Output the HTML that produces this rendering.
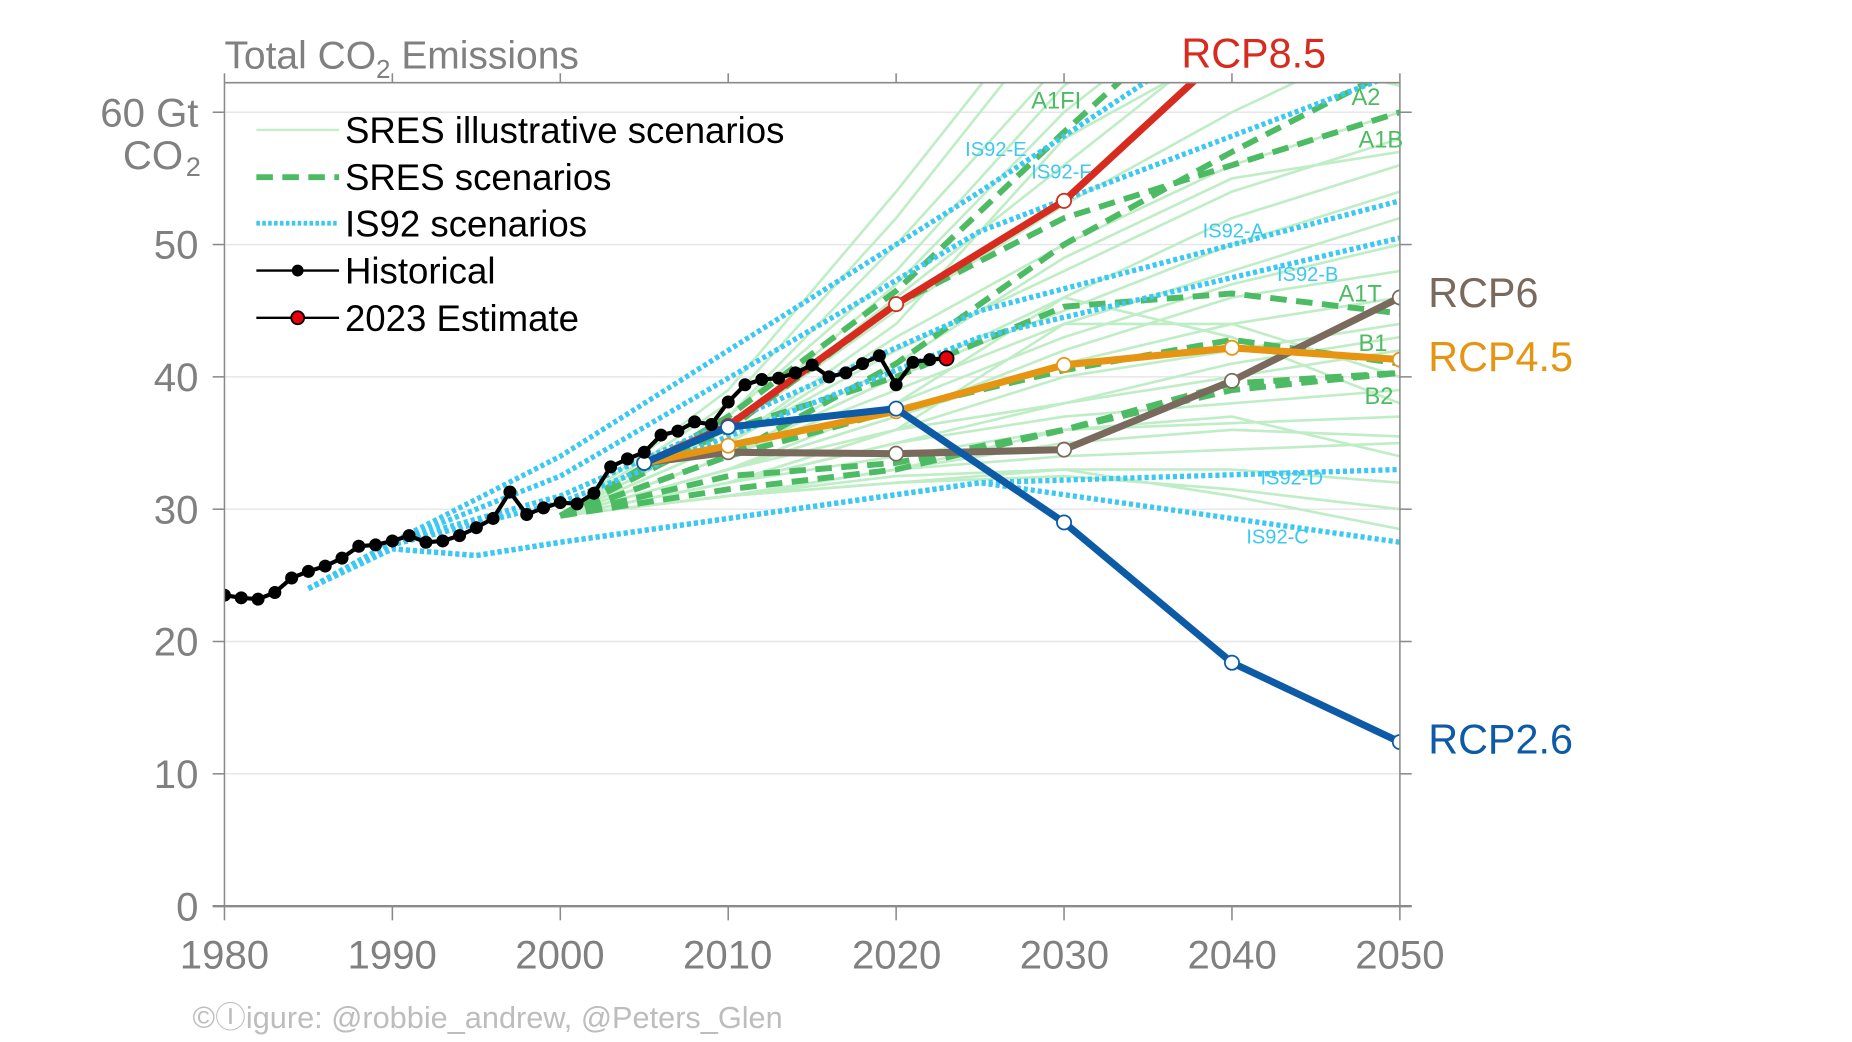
<!DOCTYPE html>
<html><head><meta charset="utf-8"><style>
html,body{margin:0;padding:0;background:#fff;width:1852px;height:1042px;overflow:hidden}
svg{display:block}
text{font-family:"Liberation Sans",sans-serif}
</style></head><body>
<svg id="s" width="1852" height="1042" viewBox="0 0 1567.7 882" preserveAspectRatio="none" xmlns="http://www.w3.org/2000/svg">
<defs><clipPath id="c"><rect x="190" y="70" width="995" height="697"/></clipPath></defs>
<g id="grid" stroke="#e6e6e6" stroke-width="1.2">
<line x1="190" x2="1185" y1="95" y2="95"/><line x1="190" x2="1185" y1="207" y2="207"/><line x1="190" x2="1185" y1="319" y2="319"/><line x1="190" x2="1185" y1="431" y2="431"/><line x1="190" x2="1185" y1="543" y2="543"/><line x1="190" x2="1185" y1="655" y2="655"/>
</g>
<g id="data" clip-path="url(#c)"></g>
<g stroke="#8a8a8a" stroke-width="1.3" fill="none">
<path d="M190 70H1185V767"/><line x1="190" y1="70" x2="190" y2="767"/>
<line x1="180" x2="1195" y1="767" y2="767" stroke-width="2"/>
</g>
<g id="ticks" stroke="#8a8a8a" stroke-width="1.3"></g>
<g fill="#808080" font-size="34" text-anchor="end">
<text x="168" y="107">60 Gt</text>
<text x="155" y="143">CO</text><text x="170" y="149" font-size="23">2</text>
<text x="168" y="219">50</text><text x="168" y="331">40</text><text x="168" y="443">30</text>
<text x="168" y="555">20</text><text x="168" y="667">10</text><text x="168" y="779">0</text>
</g>
<g fill="#808080" font-size="34" text-anchor="middle">
<text x="190" y="820">1980</text><text x="332" y="820">1990</text><text x="474" y="820">2000</text><text x="616" y="820">2010</text><text x="759" y="820">2020</text><text x="901" y="820">2030</text><text x="1043" y="820">2040</text><text x="1185" y="820">2050</text>
</g>
<text x="190" y="58" fill="#808080" font-size="33">Total CO<tspan font-size="22" dy="8">2</tspan><tspan dy="-8"> Emissions</tspan></text>
<text x="163" y="870" fill="#bdbdbd" font-size="26">©Ⓘigure: @robbie_andrew, @Peters_Glen</text>
<g font-size="35">
<text x="1000" y="57" fill="#d62b1e">RCP8.5</text>
<text x="1209" y="260" fill="#7a6a5e">RCP6</text>
<text x="1209" y="314" fill="#e69512">RCP4.5</text>
<text x="1209" y="638" fill="#0d5aa7">RCP2.6</text>
</g>
<g font-size="20" fill="#4dbb63">
<text x="873" y="92">A1FI</text><text x="1144" y="89">A2</text><text x="1150" y="125">A1B</text><text x="1133" y="255">A1T</text><text x="1150" y="297">B1</text><text x="1155" y="342">B2</text>
</g>
<g font-size="17" fill="#3cc8f0">
<text x="817" y="132">IS92-E</text><text x="873" y="151">IS92-F</text><text x="1018" y="201">IS92-A</text><text x="1081" y="238">IS92-B</text><text x="1067" y="410">IS92-D</text><text x="1055" y="460">IS92-C</text>
</g>
<g font-size="31" fill="#000">
<line x1="217" x2="287" y1="110" y2="110" stroke="#c3eec8" stroke-width="2"/>
<line x1="217" x2="287" y1="150" y2="150" stroke="#4dbb63" stroke-width="5" stroke-dasharray="14 8"/>
<line x1="217" x2="287" y1="189" y2="189" stroke="#3cc8f0" stroke-width="4" stroke-dasharray="3 2"/>
<line x1="217" x2="287" y1="229" y2="229" stroke="#000" stroke-width="2"/><circle cx="252" cy="229" r="5"/>
<line x1="217" x2="287" y1="269" y2="269" stroke="#000" stroke-width="2"/><circle cx="252" cy="269" r="5.5" fill="#e8000b" stroke="#000" stroke-width="1.5"/>
<text x="292" y="121">SRES illustrative scenarios</text>
<text x="292" y="161">SRES scenarios</text>
<text x="292" y="200">IS92 scenarios</text>
<text x="292" y="240">Historical</text>
<text x="292" y="280">2023 Estimate</text>
</g>
</svg>
<script>
var NS="http://www.w3.org/2000/svg";
function X(y){return 190+(y-1980)*14.214}
function Y(v){return 767-v*11.2}
var D=document.getElementById("data");
function pl(yrs,vals,attrs,parent){var p=document.createElementNS(NS,"polyline");var pts=[];for(var i=0;i<yrs.length;i++)pts.push(X(yrs[i]).toFixed(1)+","+Y(vals[i]).toFixed(1));p.setAttribute("points",pts.join(" "));p.setAttribute("fill","none");for(var k in attrs)p.setAttribute(k,attrs[k]);(parent||D).appendChild(p);return p}
function circ(x,y,r,fill,stroke,sw,parent){var c=document.createElementNS(NS,"circle");c.setAttribute("cx",x);c.setAttribute("cy",y);c.setAttribute("r",r);c.setAttribute("fill",fill);c.setAttribute("stroke",stroke);c.setAttribute("stroke-width",sw);(parent||D).appendChild(c)}
var Ys=[2000,2010,2020,2030,2040,2050];
var L=[[29.5,38,52,68,85,100],[29.5,37,50,64,78,90],[29.5,39,54,70,85,95],[29.5,36,46,56,66,76],[29.5,36,45,53,60,66],[29.5,35,43,50,56,60],[29.5,35,42,48,54,58],[29.5,34,40,46,52,56],[29.5,34,40,45,50,54],[29.5,34,39,44,48,52],[29.5,33,38,43,47,50],[29.5,33,37,42,46,48],[29.5,33,37,41,44,46],[29.5,33,36,40,42,44],[29.5,32,36,38,41,43],[29.5,32,35,38,40,42],[29.5,32,35,37,38,39],[29.5,32,34,36,36.5,37],[29.5,31,33,35,36,35.5],[29.5,31,33,34,34.5,35],[29.5,31,32,33,33,32],[29.5,31,32,32.5,31.5,30],[29.5,31,32.5,33,31,28.5],[29.5,32,36,44,44,40],[29.5,33,38,46,43,38],[29.5,31,33,36,37,34],[29.5,35,44,58,65,62],[29.5,37,48,62,70,75],[29.5,36,47,60,70,80],[29.5,34,41,49,55,57]];
L.forEach(function(v){pl(Ys,v,{stroke:"#bfedc5","stroke-width":2.2})});
var S=[[29.5,37,46.5,58.5,70,80],[29.5,34,41,50,57,63.5],[29.5,36,45.5,52,56,60],[29.5,36,40,45.3,46.3,44.8],[29.5,34,37.5,40.5,42.8,41],[29.5,32.5,33.5,36,39.5,40.3],[29.5,31.5,33,36,39,40.3]];
S.forEach(function(v){pl(Ys,v,{stroke:"#4dbb63","stroke-width":5,"stroke-dasharray":"14 8"})});
var I=[[[1985,1990,2000,2025,2050],[24,27.5,34,54,75]],[[1985,1990,2000,2025,2050],[24,27.5,32.5,51,63]],[[1985,1990,2000,2025,2050],[24,27.5,31,45,53.3]],[[1985,1990,2000,2025,2050],[24,27.3,30.5,43,50.5]],[[1985,1990,1995,2000,2025,2050],[24,27,26.5,27.5,32,33]],[[1985,1990,1995,2000,2025,2050],[24,27,26.5,27.5,32,27.5]]];
I.forEach(function(v){pl(v[0],v[1],{stroke:"#3cc8f0","stroke-width":4.5,"stroke-dasharray":"3.5 2.5"})});
var R=[["#7a6a5e",[2005,2010,2020,2030,2040,2050],[33.5,34.3,34.2,34.5,39.7,46.0]],["#e69512",[2005,2010,2020,2030,2040,2050],[33.5,34.8,37.4,40.9,42.2,41.3]],["#d62b1e",[2005,2010,2020,2030,2040],[33.5,36.3,45.5,53.3,65]],["#0d5aa7",[2005,2010,2020,2030,2040,2050],[33.5,36.2,37.6,29.0,18.4,12.4]]];
R.forEach(function(r){pl(r[1],r[2],{stroke:r[0],"stroke-width":6,"stroke-linejoin":"round"});for(var i=0;i<r[1].length;i++){if(r[1][i]<=2050)circ(X(r[1][i]),Y(r[2][i]),6,"#fff",r[0],1.5)}});
var H=[23.5,23.3,23.2,23.7,24.8,25.3,25.7,26.3,27.2,27.3,27.6,28.0,27.5,27.6,28.0,28.6,29.3,31.3,29.6,30.1,30.5,30.4,31.2,33.2,33.8,34.3,35.6,35.9,36.6,36.4,38.1,39.4,39.8,39.9,40.3,40.9,40.0,40.3,41.0,41.6,39.4,41.1,41.3,41.4];
var hy=H.map(function(_,i){return 1980+i});
pl(hy,H,{stroke:"#000","stroke-width":3.5,"stroke-linejoin":"round"});
for(var i=0;i<H.length-1;i++)circ(X(hy[i]),Y(H[i]),5.5,"#000","none",0);
circ(X(2023),Y(41.4),6,"#e8000b","#000",1.5);
var T=document.getElementById("ticks");
function ln(x1,y1,x2,y2){var l=document.createElementNS(NS,"line");l.setAttribute("x1",x1);l.setAttribute("y1",y1);l.setAttribute("x2",x2);l.setAttribute("y2",y2);T.appendChild(l)}
for(var y=1980;y<=2050;y+=10){ln(X(y),767,X(y),779);ln(X(y),62,X(y),70)}
for(var v=0;v<=60;v+=10){ln(180,Y(v),190,Y(v));ln(1185,Y(v),1195,Y(v))}
</script>
</body></html>
